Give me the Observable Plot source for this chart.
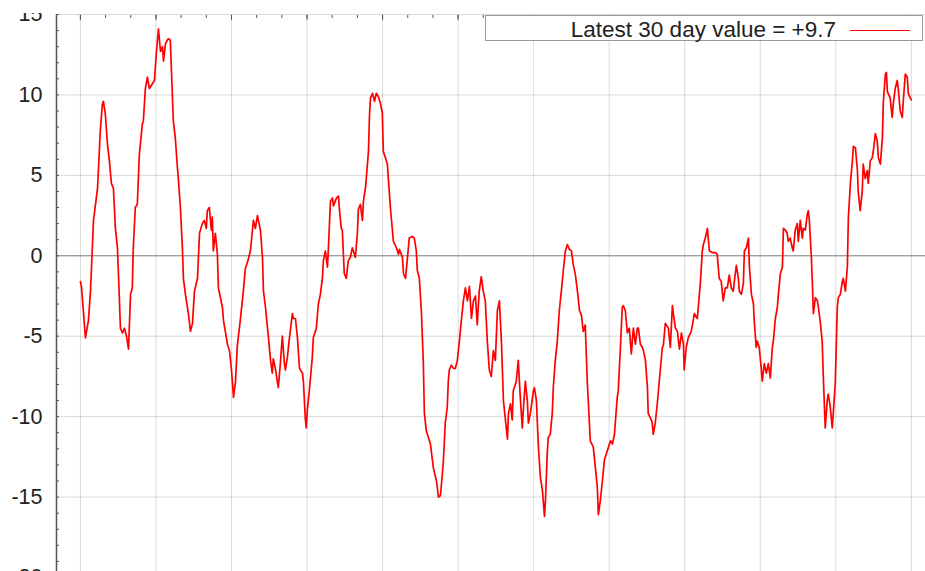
<!DOCTYPE html>
<html><head><meta charset="utf-8">
<script src="https://cdn.jsdelivr.net/npm/d3@7"></script>
<script src="https://cdn.jsdelivr.net/npm/@observablehq/plot@0.6"></script>
<style>
html,body{margin:0;padding:0;background:#fff;}
#wrap{position:relative;width:925px;height:571px;overflow:hidden;background:#fff;font-family:"Liberation Sans",Arial,sans-serif;}
#chart{position:absolute;left:0;top:0;width:960px;}
#chart svg{max-width:none !important;width:960px !important;height:607px !important;}
#mask{position:absolute;left:0;top:0;width:925px;height:13px;background:#fff;}
#legend{position:absolute;left:485px;top:15px;width:436px;height:24px;border:1px solid #9a9a9a;background:#fff;}
#ltext{position:absolute;right:86px;top:2.5px;line-height:22px;font-size:22.5px;color:#222;white-space:nowrap;}
#sw{position:absolute;left:364px;top:14px;width:60px;height:0;border-top:1.5px solid #f00;}
</style></head>
<body><div id="wrap"><div id="chart"></div><div id="mask"></div><div id="legend"><span id="ltext"></span><span id="sw"></span></div></div>
<script>
// [day, 30-day value]
const soi30 = [
[0,-1.6],[0.4,-1.9],[2.0,-5.1],[3.2,-4.0],[4.0,-2.2],[5.2,2.2],[6.8,4.2],[7.9,7.8],[8.7,9.4],[9.1,9.6],
[9.9,8.8],[10.7,7.0],[11.5,5.9],[12.3,4.5],[13.1,4.2],[13.9,1.7],[14.7,0.5],[15.1,-1.1],[15.9,-4.5],[16.7,-4.8],
[17.5,-4.5],[18.3,-5.0],[19.1,-5.8],[19.9,-2.4],[20.6,-2.0],[21.0,0.5],[21.8,3.0],[22.6,3.2],[23.4,6.3],[24.6,8.2],
[25.0,8.4],[25.8,10.4],[26.6,11.1],[27.4,10.4],[29.4,10.9],[30.2,12.7],[31.0,14.1],[31.8,12.7],[32.6,13.0],[33.0,12.1],
[33.8,13.2],[34.9,13.5],[35.7,13.4],[36.1,11.7],[36.9,8.4],[37.7,7.3],[38.5,5.5],[38.9,4.8],[39.7,3.0],[40.5,0.5],
[40.9,-1.4],[41.7,-2.4],[42.5,-3.2],[42.9,-3.6],[43.7,-4.7],[44.5,-4.2],[45.3,-2.2],[46.5,-1.4],[47.3,1.4],[48.4,2.0],
[49.2,2.2],[50.0,1.7],[50.4,2.8],[51.2,3.0],[52.0,1.6],[52.4,2.4],[52.8,0.3],[53.6,1.4],[54.4,0.1],[54.8,-2.0],
[56.4,-3.2],[56.8,-4.0],[58.4,-5.5],[59.2,-5.9],[60.0,-7.1],[60.8,-8.8],[61.6,-7.8],[62.3,-5.6],[63.5,-4.0],[64.7,-2.2],
[65.5,-0.8],[66.7,-0.2],[67.5,0.3],[68.7,2.2],[69.5,1.7],[70.3,2.5],[71.5,1.6],[72.3,-0.1],[72.7,-2.2],[73.5,-3.2],
[74.3,-4.5],[74.7,-5.1],[75.5,-6.5],[76.2,-7.3],[76.6,-6.4],[77.4,-7.0],[78.2,-7.8],[78.6,-8.2],[79.4,-6.7],[80.2,-5.0],
[81.0,-6.7],[81.4,-7.1],[82.2,-6.3],[83.0,-5.1],[84.2,-3.6],[84.6,-3.9],[85.4,-3.9],[86.2,-5.1],[87.0,-7.0],[88.2,-7.3],
[88.6,-7.9],[89.3,-10.1],[89.7,-10.7],[90.1,-9.6],[90.9,-8.4],[92.1,-6.3],[92.5,-5.1],[93.7,-4.5],[94.5,-3.0],[95.3,-2.4],
[96.1,-1.4],[96.5,-0.3],[97.3,0.3],[98.1,-0.7],[98.5,0.5],[99.3,3.4],[100.1,3.6],[100.5,3.1],[101.7,3.6],[102.5,3.7],
[102.8,3.0],[103.6,1.7],[104.0,1.6],[104.8,-1.1],[105.6,-1.4],[106.4,-0.3],[107.2,-0.1],[108.0,0.5],[108.4,0.3],[109.2,-0.1],
[110.0,1.4],[110.4,2.9],[111.2,3.2],[112.0,2.2],[112.4,3.4],[113.2,4.2],[114.0,5.7],[114.4,6.5],[114.8,8.7],[115.2,9.8],
[116.0,10.1],[116.8,9.6],[117.5,10.1],[118.3,9.9],[119.1,9.5],[119.9,8.9],[120.3,6.5],[121.9,5.7],[122.3,4.8],[123.1,3.0],
[123.9,1.6],[124.3,0.9],[125.5,0.5],[126.3,0.1],[126.7,0.4],[127.9,-0.1],[128.3,-1.1],[129.1,-1.4],[129.9,-0.1],[130.6,1.1],
[131.8,1.2],[132.6,1.1],[133.4,0.3],[133.8,-0.9],[134.6,-1.4],[135.4,-3.4],[136.2,-6.7],[136.6,-9.8],[137.4,-10.9],[138.2,-11.3],
[139.0,-11.7],[139.8,-12.7],[140.2,-13.2],[141.4,-14.0],[142.2,-15.0],[143.0,-14.9],[144.1,-12.9],[144.9,-10.4],[145.7,-9.4],[146.1,-7.8],
[146.5,-7.1],[147.3,-6.8],[148.1,-7.0],[148.9,-7.0],[149.7,-6.5],[150.5,-5.3],[151.3,-4.0],[152.1,-2.8],[152.9,-2.0],[153.7,-2.8],
[154.5,-1.9],[155.3,-3.9],[156.1,-2.8],[156.9,-2.5],[157.6,-4.3],[158.4,-2.2],[159.2,-1.3],[160.0,-2.2],[160.8,-2.8],[161.6,-5.3],
[162.4,-7.1],[163.2,-7.5],[164.0,-5.9],[164.8,-6.5],[165.6,-3.4],[166.4,-2.8],[167.2,-5.3],[168.0,-9.0],[169.6,-11.4],[170.0,-9.8],
[170.8,-9.2],[171.5,-10.2],[171.9,-8.4],[173.1,-7.8],[173.9,-6.5],[174.7,-8.8],[175.5,-10.7],[175.9,-9.6],[176.7,-7.8],[177.5,-9.0],
[177.9,-10.4],[178.7,-9.8],[179.9,-8.4],[180.3,-8.2],[181.1,-9.0],[181.9,-11.9],[182.7,-13.8],[183.5,-14.6],[184.3,-16.2],[184.7,-15.2],
[185.4,-12.3],[185.8,-11.3],[186.6,-11.1],[187.4,-9.8],[187.8,-8.2],[188.6,-6.5],[189.4,-5.3],[190.2,-3.4],[191.0,-2.2],[191.8,-0.9],
[192.6,0.3],[193.4,0.7],[194.2,0.4],[195.0,0.3],[195.8,-0.6],[196.6,-1.2],[197.4,-2.2],[198.2,-3.4],[199.0,-3.7],[199.7,-4.7],
[200.5,-4.3],[201.3,-7.8],[202.5,-11.5],[203.7,-11.9],[205.3,-14.4],[205.7,-16.1],[206.5,-15.2],[207.3,-14.0],[208.1,-12.7],[209.3,-12.1],
[210.5,-11.5],[211.3,-11.7],[212.1,-11.1],[213.2,-8.8],[213.6,-8.4],[214.4,-5.9],[215.2,-3.2],[215.6,-3.1],[216.4,-3.4],[217.2,-4.8],
[218.0,-4.5],[218.8,-6.1],[219.6,-4.5],[220.4,-5.5],[221.2,-4.5],[221.6,-4.5],[222.4,-5.5],[223.2,-5.7],[223.6,-5.9],[224.4,-6.5],
[225.2,-8.2],[225.5,-9.8],[226.7,-10.2],[227.1,-10.4],[227.5,-11.1],[228.3,-10.4],[229.1,-9.2],[229.9,-7.8],[231.1,-5.7],[231.5,-5.6],
[232.3,-4.2],[233.5,-4.5],[234.3,-5.7],[235.1,-3.1],[235.5,-3.6],[236.3,-4.5],[237.1,-4.7],[237.9,-5.8],[238.7,-4.8],[239.5,-5.5],
[239.8,-7.1],[240.6,-5.7],[241.4,-5.1],[242.6,-4.7],[243.4,-4.0],[243.8,-3.6],[245.0,-3.9],[245.4,-3.2],[246.2,-1.7],[247.0,0.3],
[247.4,0.7],[248.2,1.1],[249.0,1.7],[249.8,0.3],[251.0,0.2],[252.2,0.2],[252.9,0.1],[253.7,-1.4],[254.5,-1.6],[255.3,-2.8],
[256.1,-2.0],[256.9,-2.0],[257.7,-1.2],[258.5,-2.0],[259.3,-2.2],[259.7,-1.6],[260.5,-0.6],[261.3,-1.4],[261.7,-2.2],[262.5,-2.4],
[263.3,-1.7],[263.7,0.3],[264.5,0.5],[265.3,1.1],[265.7,-0.7],[266.5,-2.4],[267.3,-3.0],[267.6,-4.0],[268.4,-5.7],[268.8,-5.3],
[269.6,-5.7],[270.4,-7.0],[270.8,-7.8],[271.6,-6.7],[272.4,-7.3],[273.2,-6.7],[274.0,-7.6],[274.8,-5.7],[275.2,-5.3],[276.0,-3.9],
[276.8,-3.2],[277.2,-2.4],[278.0,-1.1],[278.8,-0.7],[279.2,1.7],[280.0,1.6],[280.7,1.4],[281.1,0.9],[281.9,1.1],[282.7,0.5],
[283.1,0.3],[283.9,1.6],[284.7,2.0],[285.1,0.9],[285.9,2.2],[286.7,1.1],[287.1,1.7],[287.9,1.6],[288.7,2.6],[289.1,2.8],
[289.5,2.2],[290.3,-0.1],[290.7,-1.7],[291.1,-3.6],[291.9,-2.6],[292.7,-2.8],[293.1,-3.2],[293.9,-4.2],[294.6,-5.3],[295.0,-7.3],
[295.8,-10.7],[296.6,-9.0],[297.0,-8.6],[297.8,-9.4],[298.6,-10.7],[299.0,-9.8],[299.8,-7.9],[300.6,-3.2],[301.0,-2.6],[301.8,-2.4],
[302.6,-1.6],[303.0,-1.4],[303.8,-2.2],[304.6,-0.7],[305.0,2.4],[305.8,4.5],[306.6,5.9],[307.0,6.8],[307.8,6.7],[308.6,5.3],
[308.9,4.0],[309.7,2.8],[310.5,4.0],[310.9,5.7],[311.7,4.8],[312.5,5.3],[312.9,4.5],[313.7,5.9],[314.5,6.1],[314.9,6.5],
[315.7,7.6],[316.5,7.1],[316.9,6.1],[317.7,5.7],[318.5,7.3],[318.9,9.6],[319.7,11.3],[320.1,11.4],[320.5,10.2],[320.8,10.1],
[321.6,9.8],[322.4,8.6],[322.8,9.4],[323.6,10.4],[324.4,10.9],[324.8,10.4],[325.6,9.0],[326.4,8.6],[326.8,9.6],[327.6,11.3],
[328.4,11.1],[328.8,10.1],[329.6,9.8],[330.0,9.7]
];
const yTicks = [-20, -15, -10, -5, 0, 5, 10, 15];
const yMinor = d3.range(-20, 16, 1);
const xMajor = d3.range(0, 331, 30);
const xMinor = d3.range(0, 340, 10);

const xDomain = [-9.5, 340];
const last = soi30[soi30.length - 1][1];
document.getElementById("ltext").textContent =
  `Latest 30 day value = ${last >= 0 ? "+" : ""}${last.toFixed(1)}`;

const chart = Plot.plot({
  width: 960, height: 607,
  marginLeft: 56, marginRight: 24, marginTop: 14, marginBottom: 30,
  x: {domain: xDomain, label: null},
  y: {domain: [-20, 15], label: null},
  style: {fontFamily: '"Liberation Sans", Arial, sans-serif', fontSize: "21.5px", color: "#222", background: "#fff", overflow: "visible"},
  marks: [
    Plot.gridX(xMajor, {stroke: "#000", strokeOpacity: 0.15}),
    Plot.gridY(yTicks.filter(v => v !== 0), {stroke: "#000", strokeOpacity: 0.15}),
    Plot.ruleY([0], {stroke: "#7a7a7a"}),
    Plot.ruleX([xDomain[0]], {stroke: "#555", strokeWidth: 1.5}),
    Plot.axisY(yMinor, {tickSize: 3, dx: 3, tickFormat: () => "", stroke: "#555"}),
    Plot.axisY(yTicks, {tickSize: 0, tickPadding: 14, fontSize: 21.5, fill: "#222", tickFormat: d => String(d)}),
    Plot.axisX(xMinor, {anchor: "top", tickSize: 3, dy: 3, tickFormat: () => "", stroke: "#555"}),
    Plot.axisX(xMajor, {anchor: "top", tickSize: 5, dy: 5, tickFormat: () => "", stroke: "#555"}),
    Plot.line(soi30, {x: d => d[0], y: d => d[1], stroke: "#ff0000", strokeWidth: 1.7})
  ]
});
document.getElementById("chart").appendChild(chart);
</script>
</body></html>
